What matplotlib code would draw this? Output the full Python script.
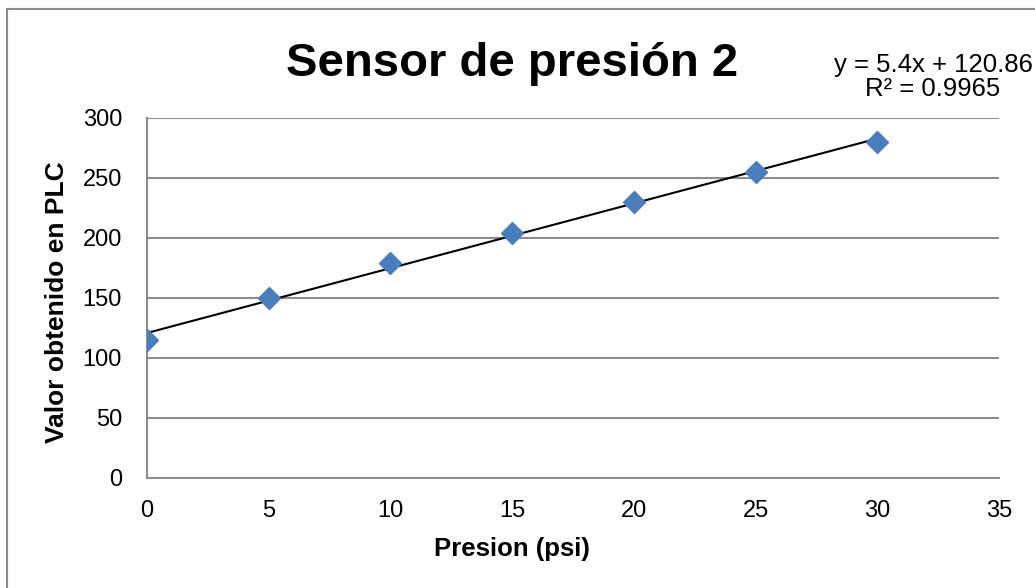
import numpy as np
import matplotlib.pyplot as plt
from matplotlib.patches import Rectangle

plt.rcParams['font.family'] = ['Liberation Sans', 'DejaVu Sans']

# Datos
presion = [0, 5, 10, 15, 20, 25, 30]
valor_plc = [115, 150, 179, 204, 230, 255, 280]
x_ticks = [0, 5, 10, 15, 20, 25, 30, 35]
y_ticks = [0, 50, 100, 150, 200, 250, 300]

# Linea de tendencia lineal
m, b = np.polyfit(presion, valor_plc, 1)
pred = np.polyval([m, b], presion)
r2 = 1 - np.sum((np.array(valor_plc) - pred) ** 2) / np.sum((np.array(valor_plc) - np.mean(valor_plc)) ** 2)

W, H = 1035, 588
fig = plt.figure(figsize=(W / 100, H / 100), dpi=100)
ax = fig.add_axes([147 / W, 1 - 478 / H, (999 - 147) / W, (478 - 118) / H])

gris = '#8c8c8c'
for yt in y_ticks[1:]:
    ax.axhline(yt, color=gris, lw=1.5, zorder=1)

xs = np.array([min(presion), max(presion)])
ax.plot(xs, m * xs + b, color='black', lw=1.5, zorder=2)
ax.plot(presion, valor_plc, 'D', color='#4a7ebb', markersize=11, zorder=3)

ax.set_xlim(0, 35)
ax.set_ylim(0, 300)
ax.set_xticks(x_ticks)
ax.set_yticks(y_ticks)
ax.tick_params(length=0, labelsize=17)
ax.tick_params(axis='x', pad=16)
ax.tick_params(axis='y', pad=18)
for s in ['top', 'right']:
    ax.spines[s].set_visible(False)
for s in ['left', 'bottom']:
    ax.spines[s].set_color(gris)
    ax.spines[s].set_linewidth(1.5)

ax.set_xlabel('Presion (psi)', fontsize=18.5, fontweight='bold', va='center')
ax.xaxis.set_label_coords((512 - 147) / 852, (478 - 549) / 360)
ax.set_ylabel('Valor obtenido en PLC', fontsize=19, fontweight='bold', va='center')
ax.yaxis.set_label_coords((57 - 147) / 852, (478 - 302) / 360)

fig.text(512 / W, 1 - 76 / H, 'Sensor de presión 2', fontsize=34, fontweight='bold',
         ha='center', va='baseline')
fig.text(933 / W, 1 - 77 / H, 'y = %.1fx + %.2f\nR² = %.4f' % (m, b, r2),
         fontsize=18.5, ha='center', va='center', linespacing=1.05)

fig.patches.append(Rectangle((7 / W, -0.1), 1.2, 1 - 9 / H + 0.1, transform=fig.transFigure,
                             fill=False, edgecolor=gris, lw=1.5))

fig.savefig('out.png', dpi=100)
